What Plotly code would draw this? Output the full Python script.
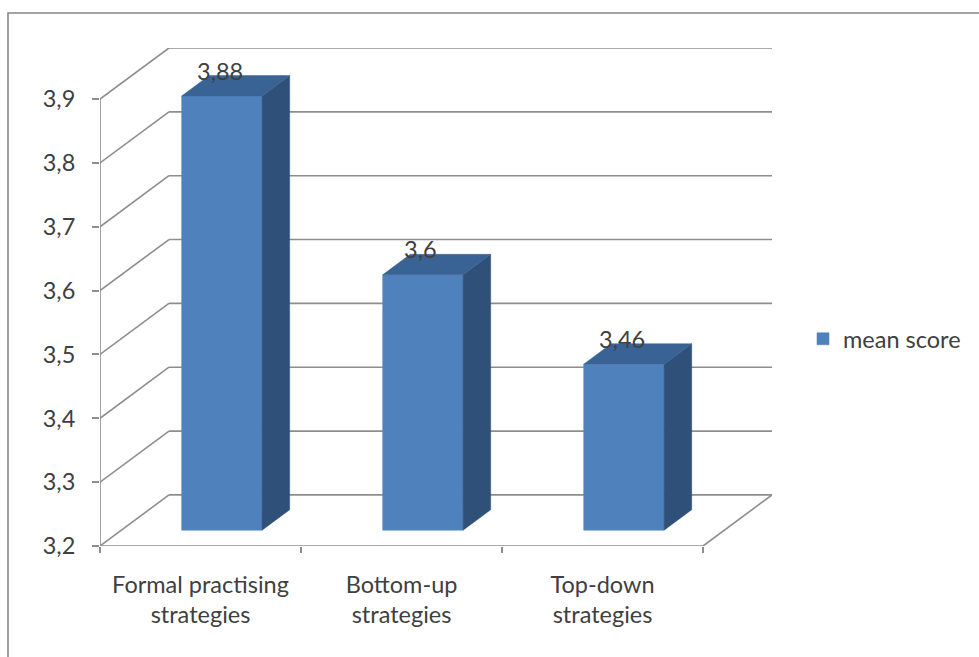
import plotly.graph_objects as go

# Data
categories = ["Formal practising<br>strategies", "Bottom-up<br>strategies", "Top-down<br>strategies"]
mean_score = [3.88, 3.6, 3.46]
y_ticks = [3.2, 3.3, 3.4, 3.5, 3.6, 3.7, 3.8, 3.9]

# 3-D look: depth of the walls and the bars, in axis units
Y_MIN, Y_MAX = 3.2, 3.9
DEPTH_X = 0.343           # horizontal shift of the back wall
DEPTH_Y = 0.08            # vertical shift of the back wall
BAR_FRONT = 0.31          # bar front face position (fraction of wall depth)
BAR_BACK = 0.71           # bar back face position
BAR_W = 0.4

FRONT = "#4F81BD"
SIDE = "#2E5079"
TOP = "#3A6395"
GRID = "#8E8E8E"
TEXT = "#404040"
FONT = "Lato"
FS = 23.5

n = len(categories)
fig = go.Figure()

# Back wall / left wall / floor lines drawn beneath the bars
shapes = []
for v in y_ticks:
    shapes.append(dict(type="line", xref="x", yref="y", layer="below",
                       x0=DEPTH_X, x1=n + DEPTH_X, y0=v + DEPTH_Y, y1=v + DEPTH_Y,
                       line=dict(color=GRID, width=1.6)))
    shapes.append(dict(type="line", xref="x", yref="y", layer="below",
                       x0=0, x1=DEPTH_X, y0=v, y1=v + DEPTH_Y,
                       line=dict(color=GRID, width=1.6)))
shapes.append(dict(type="line", xref="x", yref="y", layer="below",
                   x0=n, x1=n + DEPTH_X, y0=Y_MIN, y1=Y_MIN + DEPTH_Y,
                   line=dict(color=GRID, width=1.6)))
# outer chart frame
shapes.append(dict(type="rect", xref="paper", yref="paper",
                   x0=(8 - 100) / 672, x1=2, y0=-1, y1=(546 - 13) / 498,
                   line=dict(color="#878787", width=1.6), fillcolor="rgba(0,0,0,0)"))

# Front axis line and front floor edge
fig.add_trace(go.Scatter(x=[0, 0], y=[Y_MIN, Y_MAX], mode="lines", cliponaxis=False,
                         line=dict(color=GRID, width=1.6), showlegend=False, hoverinfo="skip"))
fig.add_trace(go.Scatter(x=[0, n], y=[Y_MIN, Y_MIN], mode="lines", cliponaxis=False,
                         line=dict(color=GRID, width=1.6), showlegend=False, hoverinfo="skip"))

# Bar front faces
centers = [i + 0.5 + BAR_FRONT * DEPTH_X for i in range(n)]
base = Y_MIN + BAR_FRONT * DEPTH_Y
fig.add_trace(go.Bar(x=centers, y=[v - Y_MIN for v in mean_score], base=base,
                     width=BAR_W, name="mean score",
                     marker=dict(color=FRONT, line=dict(color="#5B8CC6", width=0.6))))

# Side and top faces
ddx = (BAR_BACK - BAR_FRONT) * DEPTH_X
ddy = (BAR_BACK - BAR_FRONT) * DEPTH_Y
for c, v in zip(centers, mean_score):
    xl, xr = c - BAR_W / 2, c + BAR_W / 2
    yb, yt = Y_MIN + BAR_FRONT * DEPTH_Y, v + BAR_FRONT * DEPTH_Y
    fig.add_trace(go.Scatter(
        x=[xr, xr + ddx, xr + ddx, xr, xr], y=[yb, yb + ddy, yt + ddy, yt, yb],
        mode="lines", fill="toself", fillcolor=SIDE, line=dict(color=SIDE, width=0.5),
        showlegend=False, hoverinfo="skip"))
    fig.add_trace(go.Scatter(
        x=[xl, xr, xr + ddx, xl + ddx, xl], y=[yt, yt, yt + ddy, yt + ddy, yt],
        mode="lines", fill="toself", fillcolor=TOP, line=dict(color=TOP, width=0.5),
        showlegend=False, hoverinfo="skip"))

# Value labels
annotations = []
for c, v in zip(centers, mean_score):
    annotations.append(dict(x=c, y=v + BAR_BACK * DEPTH_Y, xref="x", yref="y",
                            text=f"{v:g}".replace(".", ","), showarrow=False,
                            yshift=5, xshift=-2, yanchor="middle",
                            font=dict(family=FONT, size=FS, color=TEXT)))

fig.update_layout(
    width=979, height=657,
    margin=dict(l=100, r=207, t=48, b=111),
    paper_bgcolor="white", plot_bgcolor="white",
    separators=",.",
    shapes=shapes, annotations=annotations,
    showlegend=True,
    legend=dict(x=(803 - 100) / 672, y=(546 - 339) / 498, xanchor="left", yanchor="middle",
                font=dict(family=FONT, size=FS, color=TEXT), bgcolor="rgba(0,0,0,0)"),
    xaxis=dict(range=[0, n + DEPTH_X], showgrid=False, zeroline=False, showline=False,
               tickvals=[i + 0.5 for i in range(n)], ticktext=categories, ticks="",
               tickfont=dict(family=FONT, size=FS, color=TEXT), ticklabelstandoff=22,
               minor=dict(tickvals=list(range(n + 1)), ticks="outside", ticklen=6,
                          tickcolor=GRID, tickwidth=1.6, showgrid=False)),
    yaxis=dict(range=[Y_MIN, Y_MAX + DEPTH_Y], showgrid=False, zeroline=False, showline=False,
               tickvals=y_ticks, tickformat=".1f", ticks="outside", ticklen=7,
               tickcolor=GRID, tickwidth=1.6, ticklabelstandoff=12,
               tickfont=dict(family=FONT, size=FS, color=TEXT)),
)

fig.write_html("out.html")
